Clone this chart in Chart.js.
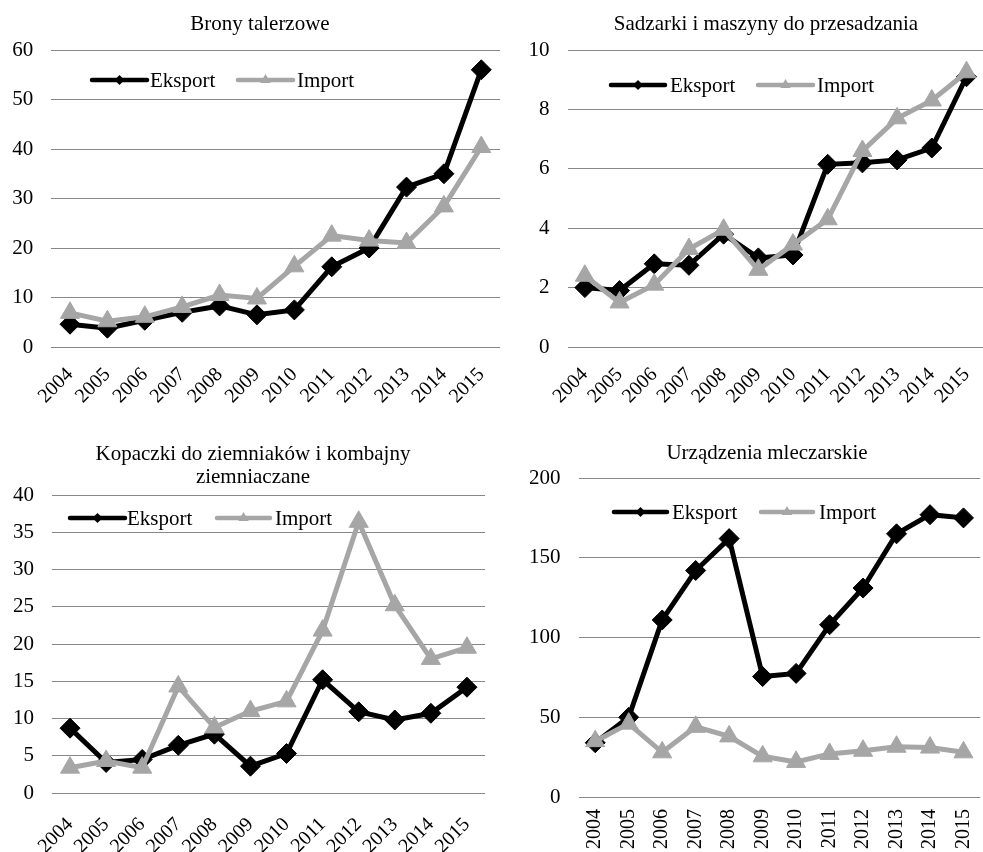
<!DOCTYPE html>
<html><head><meta charset="utf-8">
<script src="https://cdn.jsdelivr.net/npm/chart.js@4.4.1/dist/chart.umd.min.js"></script>
<style>
html,body{margin:0;padding:0;background:#fff;overflow:hidden;width:983px;height:852px;}
canvas{position:absolute;left:0;top:0;}
</style></head><body>
<canvas id="c1" width="1000" height="852"></canvas>
<canvas id="c2" width="1000" height="852"></canvas>
<canvas id="c3" width="1000" height="852"></canvas>
<canvas id="c4" width="1000" height="852"></canvas>
<script>
// ---- data ----
const years = ['2004','2005','2006','2007','2008','2009','2010','2011','2012','2013','2014','2015'];
const seriesNames = ['Eksport', 'Import'];

const bronyTitle = ['Brony talerzowe'];
const bronyEksport = [4.6, 3.8, 5.4, 7.0, 8.3, 6.5, 7.5, 16.2, 20.0, 32.3, 35.0, 56.0];
const bronyImport  = [6.9, 5.2, 6.1, 8.1, 10.5, 9.8, 16.3, 22.5, 21.5, 21.0, 28.4, 40.4];
const bronyTicks = { min: 0, max: 60, step: 10 };

const sadzarkiTitle = ['Sadzarki i maszyny do przesadzania'];
const sadzarkiEksport = [2.0, 1.9, 2.8, 2.75, 3.8, 3.0, 3.1, 6.15, 6.2, 6.3, 6.7, 9.1];
const sadzarkiImport  = [2.4, 1.5, 2.1, 3.3, 3.95, 2.6, 3.45, 4.3, 6.6, 7.7, 8.3, 9.25];
const sadzarkiTicks = { min: 0, max: 10, step: 2 };

const kopaczkiTitle = ['Kopaczki do ziemniaków i kombajny', 'ziemniaczane'];
const kopaczkiEksport = [8.7, 4.1, 4.5, 6.4, 7.9, 3.6, 5.3, 15.2, 10.9, 9.8, 10.7, 14.2];
const kopaczkiImport  = [3.4, 4.3, 3.4, 14.3, 8.8, 11.0, 12.3, 21.8, 36.4, 25.2, 18.0, 19.5];
const kopaczkiTicks = { min: 0, max: 40, step: 5 };

const mleczTitle = ['Urządzenia mleczarskie'];
const mleczEksport = [34, 50, 111, 142, 162, 75.5, 77.5, 108, 131, 165, 177, 175];
const mleczImport  = [35, 46, 28, 44, 38, 25.5, 22, 27, 29, 31.5, 31, 28];
const mleczTicks = { min: 0, max: 200, step: 50 };

// ---- styles ----
const FONT = '"Liberation Serif", "Times New Roman", serif';
const BLACK = '#000000';
const GRAY = '#A6A6A6';
const GRID = '#878787';

const decor = {
  id: 'decor',
  afterDraw(chart, args, o) {
    const ctx = chart.ctx;
    ctx.save();
    ctx.fillStyle = '#000';
    ctx.font = '21px ' + FONT;
    ctx.textAlign = 'center';
    ctx.textBaseline = 'alphabetic';
    o.titleLines.forEach((t, i) => ctx.fillText(t, o.titleX, o.titleY + i * 23));
    const items = o.legend;
    items.forEach((it, i) => {
      const color = i === 0 ? BLACK : GRAY;
      ctx.strokeStyle = color;
      ctx.fillStyle = color;
      ctx.lineWidth = 4.5;
      ctx.lineCap = 'round';
      ctx.beginPath();
      ctx.moveTo(it.x0, o.legendY);
      ctx.lineTo(it.x1, o.legendY);
      ctx.stroke();
      const cx = (it.x0 + it.x1) / 2, cy = o.legendY;
      ctx.beginPath();
      if (i === 0) {
        const r = 5;
        ctx.moveTo(cx, cy - r); ctx.lineTo(cx + r, cy); ctx.lineTo(cx, cy + r); ctx.lineTo(cx - r, cy);
      } else {
        const r = 6;
        ctx.moveTo(cx, cy - r); ctx.lineTo(cx + r * 0.866, cy + r * 0.5); ctx.lineTo(cx - r * 0.866, cy + r * 0.5);
      }
      ctx.closePath();
      ctx.fill();
      ctx.fillStyle = '#000';
      ctx.textAlign = 'left';
      ctx.fillText(seriesNames[i], it.tx, o.legendY + 7);
    });
    ctx.restore();
  }
};

function makeChart(id, eks, imp, ticks, area, xRot, xPad, YW, XH, decorOpts) {
  const W = 1000, H = 852;
  return new Chart(document.getElementById(id), {
    type: 'line',
    data: {
      labels: years,
      datasets: [
        { label: seriesNames[0], data: eks, borderColor: BLACK, backgroundColor: BLACK,
          borderWidth: 5, pointStyle: 'rectRot', pointRadius: 10, pointBorderWidth: 1,
          pointBackgroundColor: BLACK, pointBorderColor: BLACK, tension: 0, clip: false, order: 1 },
        { label: seriesNames[1], data: imp, borderColor: GRAY, backgroundColor: GRAY,
          borderWidth: 5, pointStyle: 'triangle', pointRadius: 11, pointBorderWidth: 1,
          pointBackgroundColor: GRAY, pointBorderColor: GRAY, tension: 0, clip: false, order: 0 }
      ]
    },
    options: {
      responsive: false,
      animation: false,
      devicePixelRatio: 1,
      events: [],
      layout: { padding: { left: area.left - YW, right: W - area.right, top: area.top, bottom: H - area.bottom - XH } },
      plugins: { legend: { display: false }, title: { display: false }, tooltip: { enabled: false }, decor: decorOpts },
      scales: {
        x: {
          offset: true,
          grid: { display: false, drawTicks: false },
          border: { display: false },
          afterFit: s => { s.height = XH; },
          ticks: { autoSkip: false, maxRotation: xRot, minRotation: xRot, padding: xPad,
                   color: '#000', font: { family: FONT, size: 20 } }
        },
        y: {
          min: ticks.min, max: ticks.max,
          grid: { color: GRID, lineWidth: 1, drawTicks: false },
          border: { display: false },
          afterFit: s => { s.width = YW; },
          ticks: { stepSize: ticks.step, padding: 18, color: '#000', font: { family: FONT, size: 21 } }
        }
      }
    },
    plugins: [decor]
  });
}

makeChart('c1', bronyEksport, bronyImport, bronyTicks,
  { left: 51.3, right: 500, top: 50, bottom: 347 }, 45, 16, 45, 75,
  { titleLines: bronyTitle, titleX: 260, titleY: 30, legendY: 80,
    legend: [{ x0: 92, x1: 147, tx: 150 }, { x0: 238, x1: 293, tx: 297 }] });

makeChart('c2', sadzarkiEksport, sadzarkiImport, sadzarkiTicks,
  { left: 567.5, right: 987.5, top: 50, bottom: 347 }, 45, 16, 60, 75,
  { titleLines: sadzarkiTitle, titleX: 766, titleY: 30, legendY: 85,
    legend: [{ x0: 611, x1: 665, tx: 670 }, { x0: 758, x1: 813, tx: 817 }] });

makeChart('c3', kopaczkiEksport, kopaczkiImport, kopaczkiTicks,
  { left: 52, right: 485, top: 495, bottom: 793 }, 45, 20, 45, 59,
  { titleLines: kopaczkiTitle, titleX: 253, titleY: 460, legendY: 518,
    legend: [{ x0: 70, x1: 125, tx: 127 }, { x0: 217, x1: 270, tx: 275 }] });

makeChart('c4', mleczEksport, mleczImport, mleczTicks,
  { left: 578.5, right: 994.5, top: 478, bottom: 797 }, 90, 12, 65, 55,
  { titleLines: mleczTitle, titleX: 767, titleY: 459, legendY: 512,
    legend: [{ x0: 614, x1: 667, tx: 672 }, { x0: 761, x1: 813, tx: 819 }] });
</script>
</body></html>
